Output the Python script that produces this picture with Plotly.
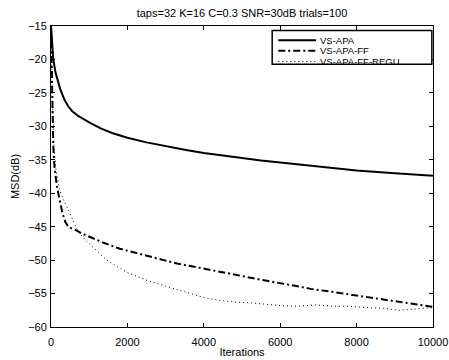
import plotly.graph_objects as go

# ---- data ----
apa_x = [0, 25, 60, 120, 240, 350, 450, 550, 700, 1000, 1300, 1600, 2000, 2500, 2850,
         3000, 3500, 4000, 4500, 5000, 5500, 6000, 7000, 7650, 8000, 9000, 10000]
apa_y = [-15, -17.5, -20, -22, -24.4, -26.0, -27.0, -27.7, -28.4, -29.4, -30.3, -31.0,
         -31.7, -32.4, -32.8, -33.0, -33.5, -34.0, -34.4, -34.8, -35.1, -35.4, -36.0,
         -36.4, -36.6, -37.0, -37.4]

ff_x = [0, 15, 35, 60, 90, 155, 245, 300, 375, 450, 550, 680, 800, 1000, 1375, 1800,
        2200, 2550, 2950, 3300, 4000, 4850, 5650, 6350, 6800, 7550, 8350, 9100, 9500, 10000]
ff_y = [-15, -20, -27, -33, -36, -39.0, -41.5, -43.0, -44.3, -45.0, -45.3, -45.6, -46.0,
        -46.5, -47.4, -48.3, -48.9, -49.5, -50.0, -50.5, -51.3, -52.3, -53.1, -53.8,
        -54.3, -54.9, -55.6, -56.3, -56.6, -57.0]

regu_x = [0, 20, 45, 80, 130, 190, 245, 350, 460, 590, 720, 900, 1070, 1250, 1420, 1650,
          1850, 2050, 2290, 2500, 2720, 2950, 3200, 3600, 4000, 4400, 4850, 5250, 5650,
          6000, 6450, 6900, 7400, 7800, 8250, 8700, 9100, 9500, 10000]
regu_y = [-16, -22, -28, -33, -36.5, -38.5, -39.8, -41.3, -42.5, -44.3, -45.8, -47.0,
          -47.9, -48.9, -49.8, -50.7, -51.4, -52.0, -52.5, -53.0, -53.4, -53.8, -54.2,
          -54.9, -55.6, -56.0, -56.3, -56.4, -56.6, -56.8, -56.9, -56.7, -56.9, -56.9,
          -57.1, -57.2, -57.5, -57.3, -57.1]

x_ticks = [0, 2000, 4000, 6000, 8000, 10000]
y_ticks = [-60, -55, -50, -45, -40, -35, -30, -25, -20, -15]

names = ["VS-APA", "VS-APA-FF", "VS-APA-FF-REGU"]
title_text = "taps=32 K=16 C=0.3 SNR=30dB trials=100"

FONT = "Liberation Sans, Arial, sans-serif"
styles = [
    dict(color="black", width=2, dash="solid"),
    dict(color="black", width=2, dash="7px,3px,2px,3px"),
    dict(color="black", width=1, dash="1px,3px"),
]

fig = go.Figure()
for xs, ys, nm, st in zip([apa_x, ff_x, regu_x], [apa_y, ff_y, regu_y], names, styles):
    fig.add_trace(go.Scatter(x=xs, y=ys, mode="lines", name=nm, line=st,
                             showlegend=False))

axis_common = dict(
    showgrid=False, zeroline=False, showline=True, linecolor="black", linewidth=1,
    mirror="allticks", ticks="inside", ticklen=4, tickcolor="black", tickwidth=1,
    tickfont=dict(family=FONT, size=11, color="black"),
)

fig.update_xaxes(range=[0, 10000], tickvals=x_ticks, ticktext=[str(v) for v in x_ticks],
                 ticklabelstandoff=5,
                 title=dict(text="Iterations", font=dict(family=FONT, size=11, color="black"),
                            standoff=1),
                 **axis_common)
fig.update_yaxes(range=[-60, -15], tickvals=y_ticks,
                 ticktext=["\u2212" + str(-v) for v in y_ticks],
                 ticklabelstandoff=1,
                 title=dict(text="MSD(dB)", font=dict(family=FONT, size=11, color="black"),
                            standoff=6),
                 **axis_common)

# ---- legend box drawn manually (compact MATLAB style) ----
lx0, lx1, ly0, ly1 = 0.579, 0.997, 0.873, 0.985
shapes = [dict(type="rect", xref="paper", yref="paper", x0=lx0, x1=lx1, y0=ly0, y1=ly1,
               line=dict(color="black", width=1.5), fillcolor="white", layer="above")]
row_y = [0.953, 0.9175, 0.882]
annotations = []
for ry, nm, st in zip(row_y, names, styles):
    shapes.append(dict(type="line", xref="paper", yref="paper", x0=0.595, x1=0.694,
                       y0=ry, y1=ry, line=st, layer="above"))
    annotations.append(dict(xref="paper", yref="paper", x=0.702, y=ry, text=nm,
                            showarrow=False, xanchor="left", yanchor="middle",
                            borderpad=0,
                            font=dict(family=FONT, size=9.5, color="black")))

fig.update_layout(
    width=449, height=360,
    margin=dict(l=51, r=16, t=26, b=33, autoexpand=False),
    paper_bgcolor="white", plot_bgcolor="white",
    title=dict(text=title_text, x=0.539, xanchor="center", y=0.963, yanchor="middle",
               font=dict(family=FONT, size=11, color="black")),
    shapes=shapes, annotations=annotations,
    showlegend=False,
)

fig.write_html("out.html")
